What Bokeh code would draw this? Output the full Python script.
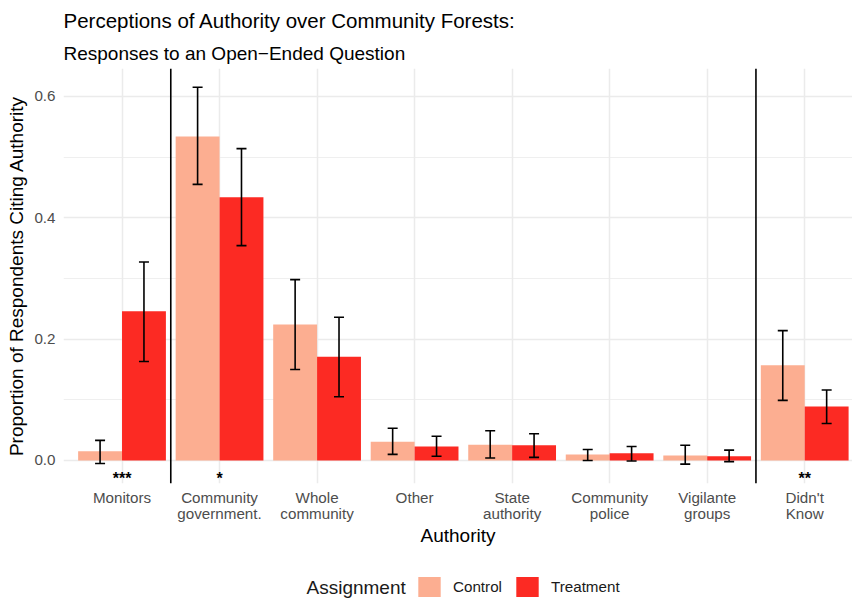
import numpy as np
from bokeh.plotting import figure
from bokeh.layouts import column
from bokeh.models import (ColumnDataSource, Whisker, Span, Legend, LegendItem, Title, Label,
                          FixedTicker, TeeHead, PrintfTickFormatter, LinearAxis)
from bokeh.core.properties import value
from bokeh.embed import file_html
from bokeh.resources import INLINE

FONT = "Liberation Sans"

categories = ["Monitors", "Community\ngovernment.", "Whole\ncommunity", "Other",
              "State\nauthority", "Community\npolice", "Vigilante\ngroups", "Didn't\nKnow"]
control = [0.015, 0.534, 0.224, 0.031, 0.026, 0.010, 0.008, 0.157]
control_lo = [-0.005, 0.455, 0.150, 0.010, 0.004, 0.000, -0.006, 0.099]
control_hi = [0.033, 0.615, 0.298, 0.053, 0.049, 0.018, 0.025, 0.214]
treatment = [0.246, 0.434, 0.171, 0.023, 0.025, 0.012, 0.007, 0.089]
treatment_lo = [0.163, 0.354, 0.105, 0.007, 0.005, -0.001, -0.002, 0.061]
treatment_hi = [0.327, 0.514, 0.236, 0.040, 0.044, 0.023, 0.017, 0.116]
stars = ["***", "*", "", "", "", "", "", "**"]
y_ticks = [0.0, 0.2, 0.4, 0.6]
y_minor = [0.1, 0.3, 0.5]
groups = ["Control", "Treatment"]

C_CONTROL = "#FCAE91"
C_TREAT = "#FC2A23"
GRID = "#EBEBEB"
TICK_COL = "#4D4D4D"

idx = np.arange(1, len(categories) + 1)
dodge = 0.225
bw = 0.45

p = figure(width=852, height=560, x_range=(0.4, 8.49), y_range=(-0.038, 0.646),
           output_backend="svg", toolbar_location=None,
           min_border_left=63, min_border_right=0, min_border_top=68, min_border_bottom=77)
p.outline_line_color = None
p.background_fill_color = "white"
p.border_fill_color = "white"

src_c = ColumnDataSource(dict(x=idx - dodge, top=control, lo=control_lo, hi=control_hi))
src_t = ColumnDataSource(dict(x=idx + dodge, top=treatment, lo=treatment_lo, hi=treatment_hi))

p.vbar(x="x", top="top", width=bw, source=src_c, fill_color=C_CONTROL, line_color=None)
p.vbar(x="x", top="top", width=bw, source=src_t, fill_color=C_TREAT, line_color=None)

for src in (src_c, src_t):
    w = Whisker(base="x", lower="lo", upper="hi", source=src, line_color="black", line_width=1.6,
                level="annotation",
                upper_head=TeeHead(size=10, line_color="black", line_width=1.6),
                lower_head=TeeHead(size=10, line_color="black", line_width=1.6))
    p.add_layout(w)

for loc in (idx[0] + 0.5, idx[-1] - 0.5):
    p.add_layout(Span(location=loc, dimension="height", line_color="black", line_width=1.6))

star_y = -0.030
p.text(x=idx, y=[star_y] * len(idx), text=stars, text_align="center", text_baseline="middle",
       text_font=value(FONT), text_font_size="16px", text_font_style="bold", text_color="black")

# x axes: first and second line of each category label
line1 = [c.split("\n")[0] for c in categories]
line2 = [c.split("\n")[1] if "\n" in c else "" for c in categories]

p.xaxis.ticker = FixedTicker(ticks=list(idx))
p.xaxis.major_label_overrides = {int(i): t for i, t in zip(idx, line1)}
ax2 = LinearAxis(ticker=FixedTicker(ticks=list(idx)),
                 major_label_overrides={int(i): t for i, t in zip(idx, line2)})
p.add_layout(ax2, "below")
p.xgrid.ticker = FixedTicker(ticks=list(idx))
p.yaxis.ticker = FixedTicker(ticks=y_ticks, minor_ticks=y_minor)
p.yaxis.formatter = PrintfTickFormatter(format="%.1f")

for ax in (p.xaxis[0], ax2, p.yaxis[0]):
    ax.axis_line_color = None
    ax.major_tick_line_color = None
    ax.minor_tick_line_color = None
    ax.major_tick_out = 0
    ax.minor_tick_out = 0
    ax.major_label_text_font = FONT
    ax.major_label_text_color = TICK_COL
    ax.major_label_text_font_size = "15.2px"
    ax.axis_label_text_font = FONT
    ax.axis_label_text_font_style = "normal"
    ax.axis_label_text_font_size = "19px"
    ax.axis_label_text_color = "black"

p.xaxis[0].major_label_standoff = 5
ax2.major_label_standoff = -4
ax2.axis_label = "Authority"
ax2.axis_label_standoff = 0
p.yaxis.axis_label = "Proportion of Respondents Citing Authority"
p.yaxis.major_label_standoff = 8
p.yaxis.axis_label_standoff = 4

p.xgrid.grid_line_color = GRID
p.xgrid.grid_line_width = 1.5
p.ygrid.grid_line_color = GRID
p.ygrid.grid_line_width = 1.5
p.ygrid.minor_grid_line_color = GRID
p.ygrid.minor_grid_line_width = 0.8

# titles
p.add_layout(Title(text="Responses to an Open\u2212Ended Question", text_font=FONT,
                   text_font_size="19px", text_font_style="normal", text_color="black",
                   align="left", standoff=10), "above")
p.add_layout(Title(text="Perceptions of Authority over Community Forests:", text_font=FONT,
                   text_font_size="20.5px", text_font_style="normal", text_color="black",
                   align="left", standoff=7), "above")

# legend strip (its frame is aligned with the chart's frame by the column layout)
p2 = figure(width=852, height=40, x_range=(63, 852), y_range=(0, 40),
            output_backend="svg", toolbar_location=None,
            x_axis_location=None, y_axis_location=None,
            min_border_left=63, min_border_right=0, min_border_top=0, min_border_bottom=0)
p2.outline_line_color = None
p2.xgrid.visible = False
p2.ygrid.visible = False
# legend proxies: one NaN row each, so nothing is drawn in the strip itself
leg_c = p2.vbar(x=[np.nan], top=[np.nan], width=1, fill_color=C_CONTROL, line_color=None)
leg_t = p2.vbar(x=[np.nan], top=[np.nan], width=1, fill_color=C_TREAT, line_color=None)
legend = Legend(items=[LegendItem(label=groups[0], renderers=[leg_c], index=0),
                       LegendItem(label=groups[1], renderers=[leg_t], index=0)],
                orientation="horizontal", location=(352, 1),
                glyph_width=28, glyph_height=25, label_standoff=10, spacing=11,
                padding=0, margin=0, border_line_color=None, background_fill_alpha=0,
                label_text_font=FONT, label_text_font_size="15.2px", label_text_color="#1A1A1A")
p2.add_layout(legend, "center")
p2.add_layout(Label(x=306, y=13, text="Assignment", text_font=FONT, text_font_size="19px",
                    text_color="#1A1A1A", text_baseline="middle", text_align="left"))

layout = column(p, p2, spacing=0)
open("out.html", "w").write(file_html(layout, INLINE))
